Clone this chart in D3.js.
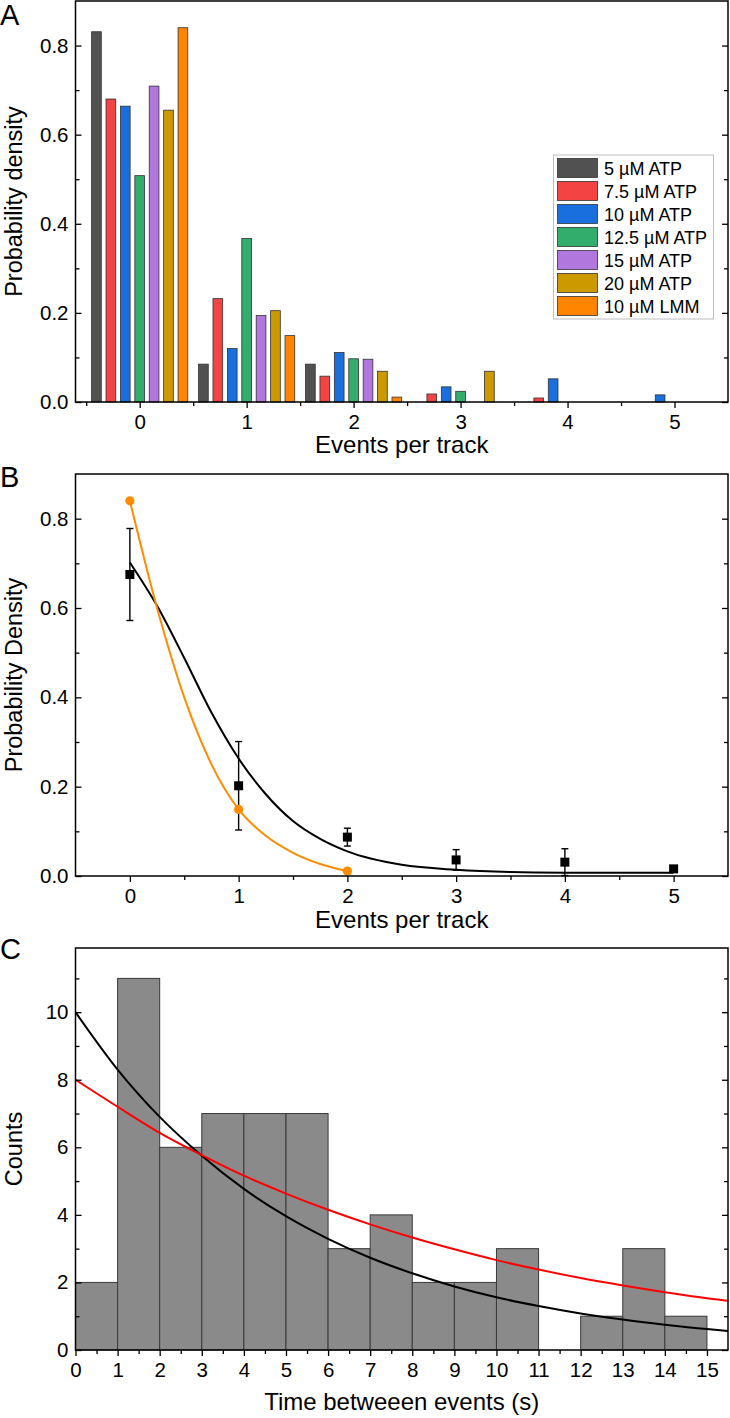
<!DOCTYPE html>
<html><head><meta charset="utf-8">
<script src="https://cdn.jsdelivr.net/npm/d3@7"></script>
<style>
body{margin:0;background:#fff}
svg{display:block}
text{font-family:"Liberation Sans",Arial,sans-serif;fill:#000}
</style>
</head><body>
<svg id="chart" width="730" height="1418"></svg>
<script>
// ---------- Panel A data ----------
const seriesNames = ["5 µM ATP","7.5 µM ATP","10 µM ATP","12.5 µM ATP","15 µM ATP","20 µM ATP","10 µM LMM"];
const seriesColors = ["#515151","#F44343","#1A6FDF","#32AD6B","#B177DE","#CC9900","#FF8500"];
const eventCategories = [0,1,2,3,4,5];
const atp5   = [0.831,0.085,0.085,0,0,0];
const atp7_5 = [0.680,0.232,0.058,0.018,0.009,0];
const atp10  = [0.664,0.120,0.111,0.034,0.052,0.016];
const atp12_5= [0.508,0.367,0.097,0.024,0,0];
const atp15  = [0.709,0.194,0.096,0,0,0];
const atp20  = [0.655,0.205,0.069,0.069,0,0];
const lmm10  = [0.840,0.149,0.011,0,0,0];
const seriesA = [atp5,atp7_5,atp10,atp12_5,atp15,atp20,lmm10];
const ticksA_y = [0,0.2,0.4,0.6,0.8];

// ---------- Panel B data ----------
const meanEvents = [0,1,2,3,4,5];
const meanDensity = [0.675,0.202,0.087,0.036,0.031,0.016];
const meanError = [0.103,0.099,0.020,0.023,0.030,0];
const lmmEvents = [0,1,2];
const lmmDensity = [0.840,0.149,0.011];
const fitAllX = [0,0.25,0.5,0.75,1,1.25,1.5,1.75,2,2.5,3,3.5,4,5];
const fitAllY = [0.702,0.605,0.488,0.366,0.263,0.183,0.123,0.083,0.055,0.025,0.014,0.009,0.0075,0.007];
const fitLmmX = [0,0.25,0.5,0.75,1,1.25,1.5,1.75,2];
const fitLmmY = [0.840,0.600,0.400,0.250,0.149,0.090,0.052,0.027,0.011];

// ---------- Panel C data ----------
const binStarts = [0,1,2,3,4,5,6,7,8,9,10,11,12,13,14];
const binCounts = [2,11,6,7,7,7,3,4,2,2,3,0,1,3,1];
const fitTimeX = [0,1,2,3,4,5,6,7,8,9,10,11,12,13,14,15,15.5];
const fitBlackY = [10,8.3,6.9,5.75,4.77,3.96,3.29,2.73,2.27,1.88,1.56,1.30,1.08,0.90,0.75,0.62,0.565];
const fitRedY = [8,7.2,6.43,5.77,5.16,4.63,4.15,3.72,3.33,2.98,2.66,2.38,2.13,1.91,1.71,1.53,1.46];

const svg = d3.select("#chart");
const L = 75.5, R = 728;
const TICK_FS = 20.5, TITLE_FS = 24;

function styleAxis(g){
  g.select(".domain").remove();
  g.selectAll("line").attr("stroke","#000").attr("stroke-width",1.3);
  g.selectAll("text").attr("font-size",TICK_FS).attr("font-family",'"Liberation Sans",Arial,sans-serif').attr("fill","#000");
}

function frame(x, y, top, bottom, opt){
  svg.append("g").attr("transform",`translate(${L},0)`)
    .call(d3.axisLeft(y).tickValues(opt.yMajor).tickFormat(opt.yFmt).tickSize(-6).tickPadding(7)).call(styleAxis);
  svg.append("g").attr("transform",`translate(${L},0)`)
    .call(d3.axisLeft(y).tickValues(opt.yMinor).tickFormat("").tickSize(-4)).call(styleAxis);
  svg.append("g").attr("transform",`translate(${R},0)`)
    .call(d3.axisRight(y).tickValues(opt.yMajor).tickFormat("").tickSize(-6)).call(styleAxis);
  svg.append("g").attr("transform",`translate(${R},0)`)
    .call(d3.axisRight(y).tickValues(opt.yMinor).tickFormat("").tickSize(-4)).call(styleAxis);
  svg.append("g").attr("transform",`translate(0,${bottom})`)
    .call(d3.axisBottom(x).tickValues(opt.xMajor).tickFormat(d3.format("d")).tickSize(6).tickPadding(6.5)).call(styleAxis);
  svg.append("g").attr("transform",`translate(0,${bottom})`)
    .call(d3.axisBottom(x).tickValues(opt.xMinor).tickFormat("").tickSize(4)).call(styleAxis);
  svg.append("rect").attr("x",L).attr("y",top).attr("width",R-L).attr("height",bottom-top)
    .attr("fill","none").attr("stroke","#000").attr("stroke-width",1.5);
  svg.append("text").attr("x",(L+R)/2).attr("y",opt.xTitleY).attr("text-anchor","middle")
    .attr("font-size",TITLE_FS).text(opt.xTitle);
  svg.append("text").attr("transform",`translate(22,${(top+bottom)/2}) rotate(-90)`)
    .attr("text-anchor","middle").attr("font-size",23.5).text(opt.yTitle);
  svg.append("text").attr("x",0).attr("y",opt.letterY).attr("font-size",29).text(opt.letter);
}

// ================= Panel A =================
{
  const top = 1, bottom = 402;
  const x = d3.scaleLinear().domain([-0.6,5.5]).range([L,R]);
  const y = d3.scaleLinear().domain([0,0.9]).range([bottom,top]);
  const step = 0.1347, bw = 0.0906;
  const g = svg.append("g");
  seriesA.forEach((vals,i)=>{
    const data = eventCategories.map((c,j)=>({c, v:vals[j]})).filter(d=>d.v>0);
    g.selectAll(null).data(data).enter().append("rect")
      .attr("x",d=>x(d.c + (i-3)*step - bw/2))
      .attr("width",x(bw)-x(0))
      .attr("y",d=>y(d.v))
      .attr("height",d=>y(0)-y(d.v))
      .attr("fill",seriesColors[i]).attr("stroke","#333").attr("stroke-width",0.8);
  });
  frame(x,y,top,bottom,{
    yMajor:ticksA_y, yMinor:[0.1,0.3,0.5,0.7], yFmt:d3.format(".1f"),
    xMajor:eventCategories, xMinor:[-0.5,0.5,1.5,2.5,3.5,4.5],
    xTitle:"Events per track", xTitleY:453, yTitle:"Probability density", letter:"A", letterY:25
  });
  const lg = svg.append("g");
  lg.append("rect").attr("x",553.5).attr("y",155).attr("width",160).attr("height",164)
    .attr("fill","#fff").attr("stroke","#bdbdbd").attr("stroke-width",1);
  seriesNames.forEach((n,i)=>{
    const yy = 158.5 + i*23;
    lg.append("rect").attr("x",557.5).attr("y",yy).attr("width",40).attr("height",19)
      .attr("fill",seriesColors[i]).attr("stroke","#333").attr("stroke-width",0.8);
    lg.append("text").attr("x",604).attr("y",yy+16).attr("font-size",18).text(n);
  });
}

// ================= Panel B =================
{
  const top = 474, bottom = 876;
  const x = d3.scaleLinear().domain([-0.5,5.5]).range([L,R]);
  const y = d3.scaleLinear().domain([0,0.9]).range([bottom,top]);
  const line = d3.line().x(d=>x(d[0])).y(d=>y(d[1])).curve(d3.curveMonotoneX);
  svg.append("path").datum(fitAllX.map((v,i)=>[v,fitAllY[i]])).attr("d",line)
    .attr("fill","none").attr("stroke","#000").attr("stroke-width",2);
  svg.append("path").datum(fitLmmX.map((v,i)=>[v,fitLmmY[i]])).attr("d",line)
    .attr("fill","none").attr("stroke","#FF8C00").attr("stroke-width",2);
  const eb = svg.append("g").attr("stroke","#000").attr("stroke-width",1.4);
  meanEvents.forEach((e,i)=>{
    if(meanError[i] <= 0) return;
    const cx = x(e), y1 = y(meanDensity[i]+meanError[i]), y2 = y(meanDensity[i]-meanError[i]);
    eb.append("line").attr("x1",cx).attr("x2",cx).attr("y1",y1).attr("y2",y2);
    eb.append("line").attr("x1",cx-3.5).attr("x2",cx+3.5).attr("y1",y1).attr("y2",y1);
    eb.append("line").attr("x1",cx-3.5).attr("x2",cx+3.5).attr("y1",y2).attr("y2",y2);
  });
  svg.selectAll(null).data(meanEvents).enter().append("rect")
    .attr("x",(d)=>x(d)-4.5).attr("y",(d,i)=>y(meanDensity[i])-4.5)
    .attr("width",9).attr("height",9).attr("fill","#000");
  svg.selectAll(null).data(lmmEvents).enter().append("circle")
    .attr("cx",d=>x(d)).attr("cy",(d,i)=>y(lmmDensity[i])).attr("r",4.6).attr("fill","#FF8C00");
  frame(x,y,top,bottom,{
    yMajor:ticksA_y, yMinor:[0.1,0.3,0.5,0.7], yFmt:d3.format(".1f"),
    xMajor:meanEvents, xMinor:[0.5,1.5,2.5,3.5,4.5],
    xTitle:"Events per track", xTitleY:927.5, yTitle:"Probability Density", letter:"B", letterY:487
  });
}

// ================= Panel C =================
{
  const top = 948, bottom = 1350;
  const x = d3.scaleLinear().domain([0,15.5]).range([L,R]);
  const y = d3.scaleLinear().domain([0,11.9]).range([bottom,top]);
  svg.selectAll(null).data(binStarts.map((b,i)=>({b,c:binCounts[i]})).filter(d=>d.c>0))
    .enter().append("rect")
    .attr("x",d=>x(d.b)).attr("width",d=>x(d.b+1)-x(d.b))
    .attr("y",d=>y(d.c)).attr("height",d=>y(0)-y(d.c))
    .attr("fill","#8a8a8a").attr("stroke","#3a3a3a").attr("stroke-width",1);
  const line = d3.line().x(d=>x(d[0])).y(d=>y(d[1])).curve(d3.curveMonotoneX);
  svg.append("path").datum(fitTimeX.map((v,i)=>[v,fitBlackY[i]])).attr("d",line)
    .attr("fill","none").attr("stroke","#000").attr("stroke-width",2);
  svg.append("path").datum(fitTimeX.map((v,i)=>[v,fitRedY[i]])).attr("d",line)
    .attr("fill","none").attr("stroke","#FF0000").attr("stroke-width",2);
  frame(x,y,top,bottom,{
    yMajor:[0,2,4,6,8,10], yMinor:[1,3,5,7,9,11], yFmt:d3.format("d"),
    xMajor:d3.range(0,16), xMinor:d3.range(0.5,15.5,1),
    xTitle:"Time betweeen events (s)", xTitleY:1410, yTitle:"Counts", letter:"C", letterY:959
  });
}
</script>
</body></html>
